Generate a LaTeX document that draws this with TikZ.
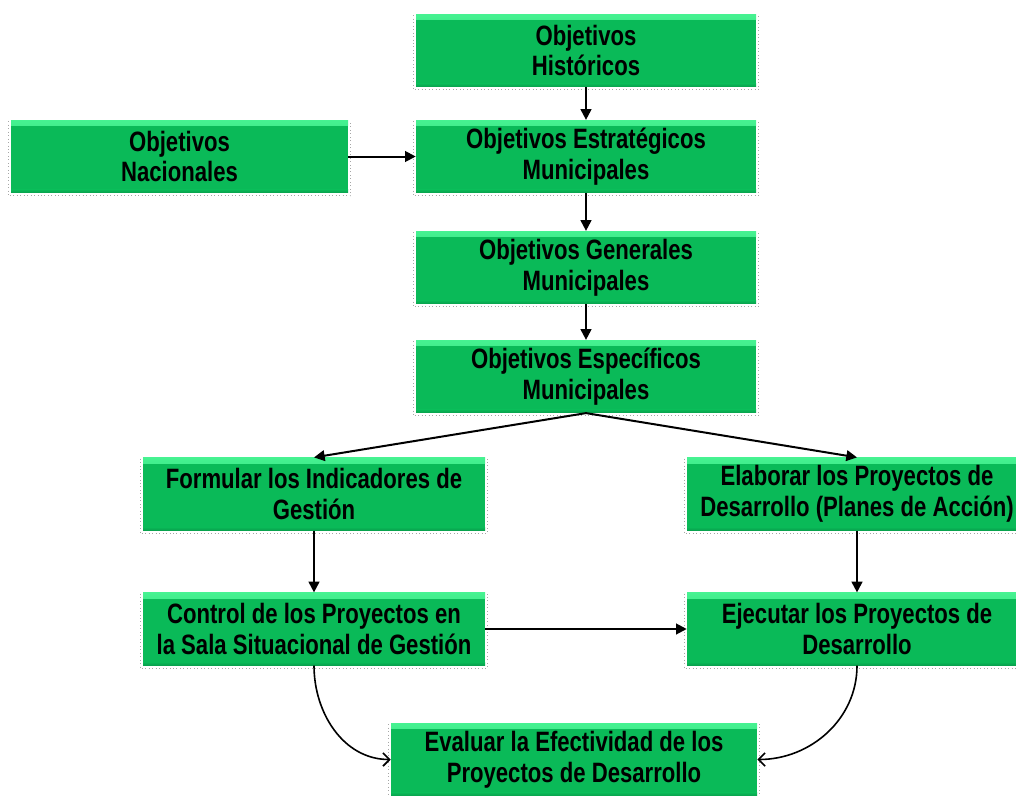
\documentclass[tikz,border=0pt]{standalone}
\usepackage{fontspec}
\setmainfont{Liberation Sans}[FakeStretch=0.79]
\usetikzlibrary{arrows.meta}
\definecolor{boxgreen}{RGB}{10,186,88}
\definecolor{boxlight}{RGB}{70,242,145}
\definecolor{boxdark}{RGB}{8,160,76}
\tikzset{
  box/.style={minimum width=255pt, minimum height=54.5pt, inner sep=0pt, align=center,
    font=\bfseries\fontsize{21}{23}\selectfont, text=black, fill=boxgreen,
    path picture={
      \fill[top color=boxlight, bottom color=boxgreen]
        (path picture bounding box.north west) rectangle ([yshift=-4pt]path picture bounding box.north east);
      \fill[top color=boxgreen, bottom color=boxdark]
        ([yshift=2.5pt]path picture bounding box.south west) rectangle (path picture bounding box.south east);
    }},
  conn/.style={line width=1.5pt, -{Triangle[length=8pt,width=8pt]}},
  curv/.style={line width=1.2pt, -{Straight Barb[length=5pt,width=10pt,line width=1.2pt]}},
  shad/.style={dotted, gray!70, line width=0.6pt}
}
\begin{document}
\begin{tikzpicture}[x=0.75pt,y=-0.75pt]
\useasboundingbox (0,0) rectangle (1016,796);
\node[box] (H) at (586,50.5) {Objetivos\\Históricos};
\node[box] (E) at (586,156.5) {Objetivos Estratégicos\\Municipales};
\node[box, minimum width=252.75pt] (N) at (179.5,156.5) {Objetivos\\Nacionales};
\node[box] (G) at (586,267.5) {Objetivos Generales\\Municipales};
\node[box] (S) at (586,376.5) {Objetivos Específicos\\Municipales};
\node[box, minimum width=256.5pt] (F) at (314,494) {Formular los Indicadores de\\Gestión};
\node[box] (L) at (857,494) {Elaborar los Proyectos de\\Desarrollo (Planes de Acción)};
\node[box, minimum width=256.5pt] (C) at (314,629) {Control de los Proyectos en\\la Sala Situacional de Gestión};
\node[box] (J) at (857,629) {Ejecutar los Proyectos de\\Desarrollo};
\node[box, minimum width=274.5pt] (V) at (574,759.5) {Evaluar la Efectividad de los\\Proyectos de Desarrollo};
\foreach \n in {H,E,N,G,S,F,L,C,J,V}{
  \draw[shad] ([shift={(-2pt,-1pt)}]\n.north west) -- ([shift={(-2pt,-2pt)}]\n.south west)
    -- ([shift={(1.5pt,-2pt)}]\n.south east) -- ([shift={(1.5pt,-1pt)}]\n.north east);
}
\draw[conn] (H) -- (E);
\draw[conn] (N) -- (E);
\draw[conn] (E) -- (G);
\draw[conn] (G) -- (S);
\draw[conn] (S.south) -- (F.north);
\draw[conn] (S.south) -- (L.north);
\draw[conn] (F) -- (C);
\draw[conn] (L) -- (J);
\draw[conn] (C) -- (J);
\draw[curv] (C.south) to[out=-90,in=180] (V.west);
\draw[curv] (J.south) to[out=-90,in=0] (V.east);
\end{tikzpicture}
\end{document}
